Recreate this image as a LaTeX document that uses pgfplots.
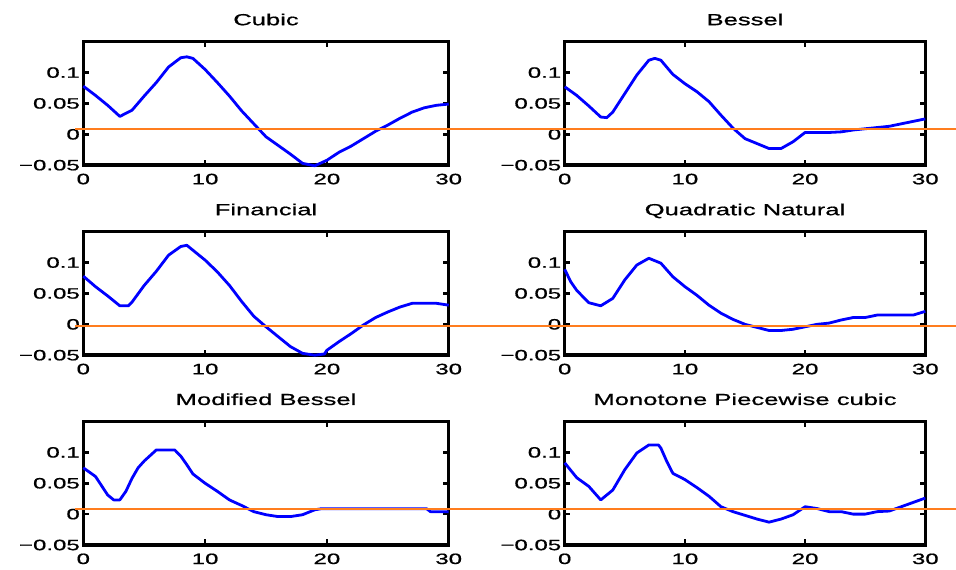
\documentclass[border=0pt]{standalone}
\usepackage{fontspec}
\setmainfont{Liberation Sans}[FakeStretch=1.6, FakeBold=0.8]
\usepackage{pgfplots}
\pgfplotsset{compat=1.18}
\definecolor{myblue}{RGB}{0,0,255}
\definecolor{myorange}{RGB}{255,125,30}
\pgfplotsset{
  panel/.style={
    scale only axis, height=123.5pt, anchor=south west,
    xmin=0, xmax=30, ymin=-0.05, ymax=0.15,
    xtick={0,10,20,30}, xticklabels={0,10,20,30},
    ytick={-0.05,0,0.05,0.1}, yticklabels={−0.05,0,0.05,0.1},
    tick align=inside, tick pos=both,
    major tick length=5.5pt,
    every tick/.style={black, line width=2.6pt},
    major tick style={black, line width=2.6pt},
    axis line style={black, line width=3.3pt},
    tick label style={font=\fontsize{15}{18}\selectfont},
    xticklabel style={yshift=-5pt},
    title style={font=\fontsize{16}{19}\selectfont, at={(0.5,1)}, anchor=base, yshift=10.5pt},
    clip=false,
    execute at begin axis={\draw[black, line width=3.4pt, line join=miter] (rel axis cs:0,0) rectangle (rel axis cs:1,1);},
  },
  blueline/.style={myblue, line width=2.8pt, line join=round, mark=none},
  orangeline/.style={myorange, line width=1.8pt, mark=none},
}
\begin{document}
\begin{tikzpicture}
\useasboundingbox (0,0) rectangle (956pt,570pt);
% Row 1 left: Cubic
\begin{axis}[panel, at={(83.3pt,404.8pt)}, width=365.4pt, title={Cubic}]
\addplot[blueline] table {
0 0.078
1 0.063
2 0.047
3 0.029
4 0.039
5 0.062
6 0.084
7 0.109
8 0.124
8.5 0.1255
9 0.123
10 0.105
11 0.084
12 0.062
13 0.038
14 0.017
15 -0.004
16 -0.018
17 -0.032
18 -0.047
19 -0.051
20 -0.042
21 -0.029
22 -0.019
23 -0.007
24 0.005
25 0.015
26 0.026
27 0.036
28 0.043
29 0.047
30 0.049
};
\addplot[orangeline] coordinates {(-0.68,0.008) (40,0.008)};
\end{axis}
% Row 1 right: Bessel
\begin{axis}[panel, at={(564.7pt,404.8pt)}, width=360.6pt, title={Bessel}]
\addplot[blueline] table {
0 0.077
1 0.063
2 0.046
3 0.028
3.5 0.027
4 0.036
5 0.066
6 0.096
7 0.120
7.5 0.123
8 0.120
9 0.097
10 0.082
11 0.069
12 0.053
13 0.031
14 0.010
15 -0.007
16 -0.015
17 -0.023
18 -0.023
19 -0.012
20 0.003
21 0.003
22 0.003
23 0.004
24 0.007
25 0.009
26 0.011
27 0.013
28 0.017
29 0.021
30 0.025
};
\addplot[orangeline] coordinates {(-9.7,0.008) (33,0.008)};
\end{axis}
% Row 2 left: Financial
\begin{axis}[panel, at={(83.3pt,214.8pt)}, width=365.4pt, title={Financial}]
\addplot[blueline] table {
0 0.078
1 0.061
2 0.046
3 0.030
3.7 0.030
4 0.036
5 0.063
6 0.086
7 0.112
8 0.126
8.5 0.128
9 0.120
10 0.104
11 0.085
12 0.063
13 0.037
14 0.013
15 -0.004
16 -0.020
17 -0.036
18 -0.047
19 -0.050
19.8 -0.048
20 -0.042
21 -0.028
22 -0.015
23 -0.001
24 0.011
25 0.020
26 0.028
27 0.034
28 0.034
29 0.034
30 0.031
};
\addplot[orangeline] coordinates {(-0.68,-0.003) (40,-0.003)};
\end{axis}
% Row 2 right: Quadratic Natural
\begin{axis}[panel, at={(564.7pt,214.8pt)}, width=360.6pt, title={Quadratic Natural}]
\addplot[blueline] table {
0 0.089
0.5 0.069
1 0.055
2 0.035
3 0.030
4 0.042
5 0.072
6 0.096
7 0.107
8 0.099
9 0.077
10 0.061
11 0.047
12 0.031
13 0.018
14 0.008
15 0.000
16 -0.005
17 -0.010
18 -0.010
19 -0.008
20 -0.004
21 0.000
22 0.002
23 0.007
24 0.011
25 0.011
26 0.015
27 0.015
28 0.015
29 0.015
30 0.021
};
\addplot[orangeline] coordinates {(-9.7,-0.003) (33,-0.003)};
\end{axis}
% Row 3 left: Modified Bessel
\begin{axis}[panel, at={(83.3pt,25pt)}, width=365.4pt, title={Modified Bessel}]
\addplot[blueline] table {
0 0.075
1 0.061
2 0.031
2.5 0.023
3 0.023
3.5 0.037
4 0.058
4.5 0.075
5 0.086
5.5 0.095
6 0.104
7.5 0.104
8 0.094
8.5 0.080
9 0.065
10 0.050
11 0.037
12 0.023
13 0.014
14 0.004
15 -0.001
16 -0.004
17 -0.004
18 -0.001
19 0.007
19.5 0.0086
28.2 0.0086
28.5 0.004
30 0.004
};
\addplot[orangeline] coordinates {(-0.68,0.0086) (40,0.0086)};
\end{axis}
% Row 3 right: Monotone Piecewise cubic
\begin{axis}[panel, at={(564.7pt,25pt)}, width=360.6pt, title={Monotone Piecewise cubic}]
\addplot[blueline] table {
0 0.083
1 0.059
2 0.045
3 0.023
4 0.039
5 0.072
6 0.099
7 0.112
7.8 0.112
8 0.107
8.5 0.085
9 0.066
10 0.056
11 0.043
12 0.029
13 0.012
14 0.004
15 -0.002
16 -0.008
17 -0.013
18 -0.008
19 -0.001
20 0.012
21 0.009
22 0.004
23 0.004
24 0.000
25 0.000
26 0.004
27 0.005
28 0.012
29 0.019
30 0.026
};
\addplot[orangeline] coordinates {(-9.7,0.0086) (33,0.0086)};
\end{axis}
\end{tikzpicture}
\end{document}
